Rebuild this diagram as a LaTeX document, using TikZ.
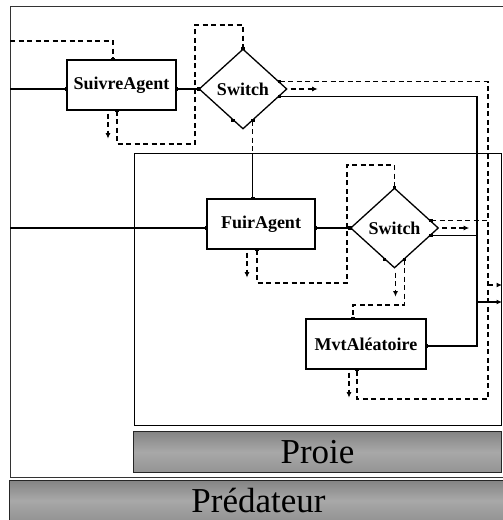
\documentclass[tikz,border=0pt]{standalone}
\usepackage{fontspec}
\setmainfont{Liberation Serif}
\usetikzlibrary{shapes.geometric,arrows.meta,calc}
\tikzset{
  blk/.style={draw, line width=1.3pt, fill=white, inner sep=0pt, font=\bfseries\fontsize{18}{20}\selectfont},
  sw/.style={blk, shape=diamond, minimum width=88pt, minimum height=80pt},
  cont/.style={draw, line width=1.3pt, inner sep=0pt, anchor=north west},
  bar/.style={draw=black!85, line width=1.1pt, inner sep=0pt, anchor=north west, top color=black!48, bottom color=black!42, middle color=black!34, font=\fontsize{35}{40}\selectfont},
  wire/.style={line width=1.15pt},
  dwire/.style={line width=1.15pt, dash pattern=on 5pt off 3.5pt},
  arrowend/.style={-{Latex[length=5.5pt,width=5pt]}},
}
\begin{document}
\begin{tikzpicture}[x=1pt,y=-1pt]
\useasboundingbox (0,0) rectangle (503,520);
\clip (0,0) rectangle (503,520);
% containers
\node[cont, draw=black!80, minimum width=496pt, minimum height=471pt] (predbox) at (10,6) {};
\node[cont, minimum width=367pt, minimum height=272pt] (proiebox) at (134,153) {};
\node[bar, minimum width=368pt, minimum height=41pt] (proiebar) at (133,431) {Proie};
\node[bar, minimum width=498pt, minimum height=39.5pt] (predbar) at (9,480) {Prédateur};
% blocks
\node[blk, minimum width=109pt, minimum height=50pt] (suivre) at (121.5,85) {SuivreAgent};
\node[sw] (sw1) at (243,89) {Switch};
\node[blk, minimum width=108pt, minimum height=50pt] (fuir) at (261,224) {FuirAgent};
\node[sw] (sw2) at (394.5,228) {Switch};
\node[blk, minimum width=120pt, minimum height=50pt] (mvt) at (366,344) {MvtAléatoire};
% helper coordinates
\coordinate (yA) at (0,41);
\coordinate (loopAa) at (195,144);
\coordinate (loopAb) at (195,25);
\coordinate (dbus) at (488,399);
\coordinate (sbus) at (477,0);
\coordinate (outD) at (502,285);
\coordinate (outS) at (502,302);
\coordinate (loopBa) at (347,283);
\coordinate (loopBb) at (347,165);
\coordinate (yC) at (0,305);
% ports
\coordinate (sIn) at ($(suivre.west)+(0,4)$);
\coordinate (sOut) at ($(suivre.east)+(0,4)$);
\coordinate (sTop) at ($(suivre.north)+(-8.5,0)$);
\coordinate (sBot) at ($(suivre.south)+(-4.5,0)$);
\coordinate (aUR) at ($(sw1.east)!0.18!(sw1.north)$);
\coordinate (aLR) at ($(sw1.east)!0.18!(sw1.south)$);
\coordinate (aBR) at ($(sw1.south)!0.22!(sw1.east)$);
\coordinate (aBL) at ($(sw1.south)!0.22!(sw1.west)$);
\coordinate (bUR) at ($(sw2.east)!0.18!(sw2.north)$);
\coordinate (bLR) at ($(sw2.east)!0.18!(sw2.south)$);
\coordinate (bBR) at ($(sw2.south)!0.22!(sw2.east)$);
\coordinate (bBL) at ($(sw2.south)!0.22!(sw2.west)$);
\coordinate (fIn) at ($(fuir.west)+(0,4)$);
\coordinate (fOut) at ($(fuir.east)+(0,4)$);
\coordinate (fBot) at ($(fuir.south)+(-4,0)$);
\coordinate (fTop) at (aBR |- fuir.north);
\coordinate (mTop) at ($(mvt.north)+(-13,0)$);
\coordinate (mBot) at ($(mvt.south)+(-9,0)$);
\coordinate (mR) at ($(mvt.east)+(0,2)$);
% connectors: SuivreAgent / Switch 1
\draw[wire] (predbox.west |- sIn) -- (sIn);
\draw[dwire] (predbox.west |- yA) -| (sTop);
\draw[wire] (sOut) -- (sw1.west);
\draw[dwire] (sBot) |- (loopAa) -- (loopAb) -| (sw1.north);
\draw[dwire, arrowend] ($(suivre.south)+(-13.5,3)$) -- ++(0,25);
\draw[dwire, arrowend] ($(sw1.east)+(3,0)$) -- ++(27,0);
\draw[dwire] (aUR) -| (dbus) -| (mBot);
\draw[dwire, arrowend] (outD -| dbus) -- (outD);
\draw[wire] (aLR) -| (sbus |- mR) -- (mR);
\draw[wire, arrowend] (outS -| sbus) -- (outS);
\draw[dwire] (aBR) -- (aBR |- proiebox.north);
\draw[wire] (aBR |- proiebox.north) -- (fTop);
% FuirAgent / Switch 2
\draw[wire] (predbox.west |- fIn) -- (fIn);
\draw[wire] (fOut) -- (sw2.west);
\draw[dwire] (fBot) |- (loopBa) -- (loopBb) -| (sw2.north);
\draw[dwire, arrowend] ($(fuir.south)+(-14,3)$) -- ++(0,25);
\draw[dwire] (bUR) -- (bUR -| dbus);
\draw[wire] (bLR) -- (bLR -| sbus);
\draw[dwire, arrowend] ($(sw2.east)+(3,0)$) -- ++(27,0);
\draw[dwire] (bBR) -- (bBR |- yC) -| (mTop);
\draw[dwire, arrowend] ($(sw2.south)+(1,4)$) -- ++(0,24);
% MvtAleatoire
\draw[dwire, arrowend] ($(mvt.south)+(-17,3)$) -- ++(0,25);
% port dots
\foreach \p in {sIn,sOut,sTop,sBot,sw1.west,sw1.north,aUR,aLR,aBR,aBL,bUR,bLR,bBR,bBL,sw2.west,sw2.north,fIn,fOut,fBot,fTop,mTop,mBot,mR}
  \fill (\p) +(-1.7,-1.7) rectangle +(1.7,1.7);
\end{tikzpicture}
\end{document}
